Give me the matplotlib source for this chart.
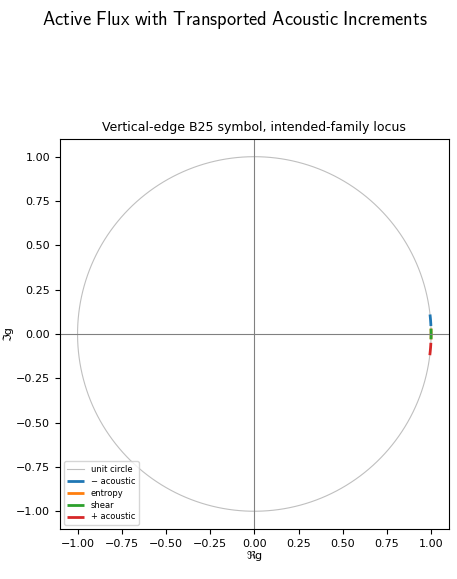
import numpy as np
import matplotlib
matplotlib.use("Agg")
import matplotlib.pyplot as plt

# locus angles (radians), all on |g| = 1
labels = ["\u2212 acoustic", "entropy", "shear", "+ acoustic"]
colors = ["C0", "C1", "C2", "C3"]
theta_minus_ac = [0.045, 0.06, 0.075, 0.09, 0.11]
theta_entropy = [-0.03, -0.015, 0.0, 0.015, 0.03]
theta_shear = [-0.03, -0.015, 0.0, 0.015, 0.03]
theta_plus_ac = [-0.05, -0.065, -0.08, -0.10, -0.12]
radius = [1.0, 1.0, 1.0, 1.0, 1.0]

fig = plt.figure(figsize=(4.57, 5.79), dpi=100)
ax = fig.add_axes([0.131, 0.0864, 0.851, 0.6736])

# unit circle
t = np.linspace(0, 2 * np.pi, 400)
ax.plot(np.cos(t), np.sin(t), color="0.75", lw=0.8, label="unit circle")

for th, lab, c in zip([theta_minus_ac, theta_entropy, theta_shear, theta_plus_ac],
                      labels, colors):
    th = np.array(th)
    r = np.array(radius)
    ax.plot(r * np.cos(th), r * np.sin(th), color=c, lw=2, label=lab,
            solid_capstyle="butt")

ax.axhline(0, color="0.5", lw=0.8)
ax.axvline(0, color="0.5", lw=0.8)

ax.set_xlim(-1.1, 1.1)
ax.set_ylim(-1.1, 1.1)
ax.set_xticks(np.arange(-1.0, 1.01, 0.25))
ax.set_yticks(np.arange(-1.0, 1.01, 0.25))
ax.tick_params(labelsize=8)
ax.set_xlabel("\u211cg", fontsize=8, labelpad=2)
ax.set_ylabel("\u2111g", fontsize=8, labelpad=2)
ax.set_title("Vertical-edge B25 symbol, intended-family locus", fontsize=9)
ax.legend(loc="lower left", fontsize=6, labelspacing=0.35)

fig.suptitle(r"$\mathsf{Active\ Flux\ with\ Transported\ Acoustic\ Increments}$",
             fontsize=13.3, x=0.514, y=0.985, math_fontfamily="cm")

fig.savefig("out.png", dpi=100)
